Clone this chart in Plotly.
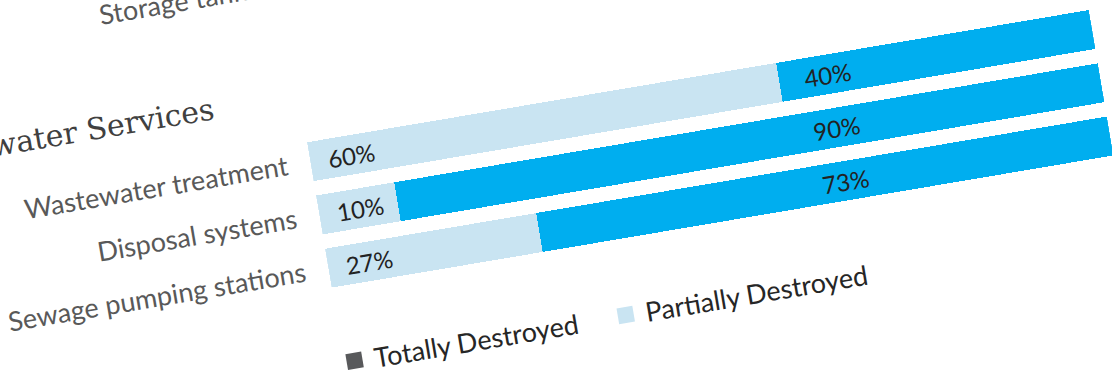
import plotly.graph_objects as go

# ---- data ----
categories = ["Wastewater treatment", "Disposal systems", "Sewage pumping stations"]
partially = [60, 10, 27]
totally = [40, 90, 73]
header_text = "Wastewater Services"
upper_label = "Storage tanks"
legend_names = ["Totally Destroyed", "Partially Destroyed"]

# ---- styles / layout constants ----
C_LIGHT = "#C9E4F2"
C_BLUE = "#00AEEF"
C_GREY = "#58595B"
PITCH = 54.0
ML, MT, MR, MB = 450, 100, 157, 100
PLOT_W = 793
N_UNITS = 9
PLOT_H = PITCH * N_UNITS
W = ML + PLOT_W + MR
H = MT + PLOT_H + MB
ANGLE = 9.6

rows = list(range(len(categories)))
upper_pos = -3.32

fig = go.Figure()
fig.add_trace(go.Bar(y=rows, x=partially, orientation="h", name=legend_names[1],
                     marker=dict(color=C_LIGHT, line=dict(width=0)), width=0.73,
                     showlegend=False, hoverinfo="skip"))
fig.add_trace(go.Bar(y=rows, x=totally, orientation="h", name=legend_names[0],
                     marker=dict(color=C_BLUE, line=dict(width=0)), width=0.73,
                     showlegend=False, hoverinfo="skip"))
# legend entries
fig.add_trace(go.Scatter(x=[None], y=[None], mode="markers", name=legend_names[0],
                         marker=dict(symbol="square", size=16, color=C_GREY)))
fig.add_trace(go.Scatter(x=[None], y=[None], mode="markers", name=legend_names[1],
                         marker=dict(symbol="square", size=16, color=C_LIGHT)))

ann = []
for r, p, t in zip(rows, partially, totally):
    ann.append(dict(x=5.2, y=r, xref="x", yref="y", text=f"{p}%", showarrow=False,
                    font=dict(family="Lato", size=24, color="#222222"), xanchor="center", yanchor="middle"))
    ann.append(dict(x=66.2, y=r, xref="x", yref="y", text=f"{t}%", showarrow=False,
                    font=dict(family="Lato", size=24, color="#222222"), xanchor="center", yanchor="middle"))
ann.append(dict(x=0, y=-1.26, xref="paper", yref="y", text=header_text, showarrow=False,
                xanchor="right", yanchor="middle", xshift=-84,
                font=dict(family="DejaVu Serif", size=30, color="#404040")))

fig.update_layout(
    width=W, height=H,
    margin=dict(l=ML, r=MR, t=MT, b=MB, autoexpand=False),
    paper_bgcolor="white", plot_bgcolor="white",
    barmode="stack",
    showlegend=True,
    legend=dict(orientation="h", x=-0.012, xanchor="left", y=0.08, yanchor="middle",
                traceorder="normal",
                font=dict(family="Lato", size=27, color="#262626"),
                entrywidth=230, bgcolor="rgba(0,0,0,0)"),
    xaxis=dict(range=[0, 100], visible=False, fixedrange=True),
    yaxis=dict(range=[N_UNITS / 2, -N_UNITS / 2], tickvals=[upper_pos] + rows,
               ticktext=[upper_label] + categories, showgrid=False, zeroline=False,
               showline=False, ticks="", ticklabelstandoff=22,
               tickfont=dict(family="Lato", size=27, color="#595959"), fixedrange=True),
    annotations=ann,
)

# anchor: top-left corner of first bar
ax = ML
ay = MT + (N_UNITS / 2 - 0.365) * PITCH
sx, sy = 307, 142
post = f"""
var gd = document.getElementById('{{plot_id}}');
document.documentElement.style.overflow='hidden';
document.body.style.margin='0';
document.body.style.overflow='hidden';
gd.style.position='absolute';
gd.style.left='{sx - ax}px';
gd.style.top='{sy - ay}px';
gd.style.transformOrigin='{ax}px {ay}px';
gd.style.transform='rotate(-{ANGLE}deg)';
"""
fig.write_html("out.html", config={"displayModeBar": False, "responsive": False}, post_script=post)
